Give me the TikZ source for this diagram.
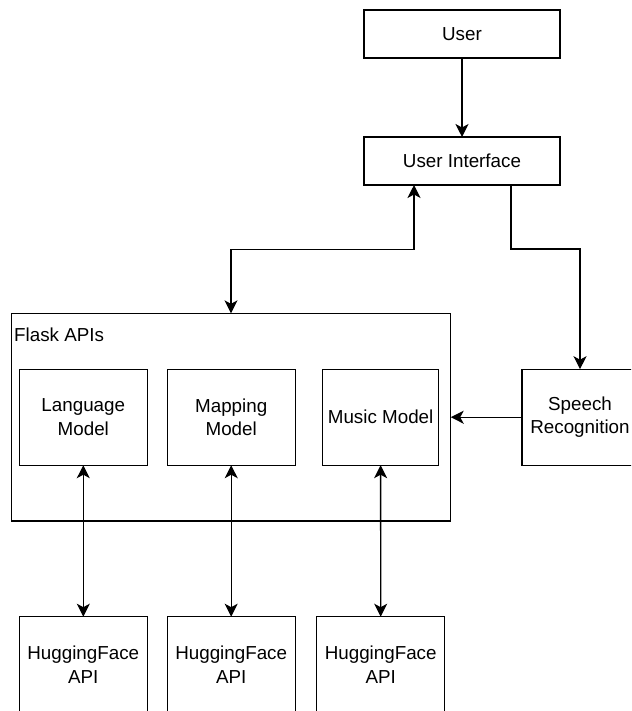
\documentclass[tikz,border=0pt]{standalone}
\usepackage{fontspec}
\setmainfont{Liberation Sans}
\usetikzlibrary{arrows.meta}
\begin{document}
\begin{tikzpicture}[x=1pt,y=-1pt,
  box/.style={draw, line width=1.3pt, inner sep=0pt, outer sep=0pt, align=center,
    font=\fontsize{18.8}{23.3}\selectfont},
  conn/.style={line width=1.3pt, -{Stealth[length=13pt,width=13pt,inset=3.5pt]}},
  conn2/.style={line width=1.3pt, {Stealth[length=13pt,width=13pt,inset=3.5pt]}-{Stealth[length=13pt,width=13pt,inset=3.5pt]}}]
\useasboundingbox (0,0) rectangle (631,711);
\clip (0,0) rectangle (631,711);
\fill[white] (0,0) rectangle (631,711);
\node[box, minimum width=196pt, minimum height=48pt] (user) at (462,34) {User};
\node[box, minimum width=196pt, minimum height=48pt] (ui) at (462,161) {User Interface};
\node[box, minimum width=439.4pt, minimum height=207.7pt] (flask) at (231,417.2) {};
\node[anchor=west, inner sep=0pt, font=\fontsize{18.8}{23.3}\selectfont] (flasklbl) at (14,334.3) {Flask APIs};
\node[box, minimum width=128pt, minimum height=96pt] (lm) at (83.3,417.2) {Language\\Model};
\node[box, minimum width=128pt, minimum height=96pt] (mm) at (231.2,417.2) {Mapping\\Model};
\node[box, minimum width=116pt, minimum height=96pt] (mu) at (380.6,417.2) {Music Model};
\node[box, minimum width=116pt, minimum height=96pt] (sr) at (580,417.2) {Speech\\Recognition};
\node[box, minimum width=128pt, minimum height=96pt] (hf1) at (83.3,664.7) {HuggingFace\\API};
\node[box, minimum width=128pt, minimum height=96pt] (hf2) at (231.2,664.7) {HuggingFace\\API};
\node[box, minimum width=128pt, minimum height=96pt] (hf3) at (380.7,664.7) {HuggingFace\\API};
\draw[conn] (user) -- (ui);
\draw[conn2] (flask.north) -- ++(0,-64) -| ([xshift=-48pt]ui.south);
\draw[conn] ([xshift=49pt]ui.south) -- ++(0,64) -| (sr.north);
\draw[conn] (sr.west) -- (flask.east |- sr.west);
\draw[conn2] (lm.south) -- (hf1.north);
\draw[conn2] (mm.south) -- (hf2.north);
\draw[conn2] (mu.south) -- (hf3.north);
\end{tikzpicture}
\end{document}
